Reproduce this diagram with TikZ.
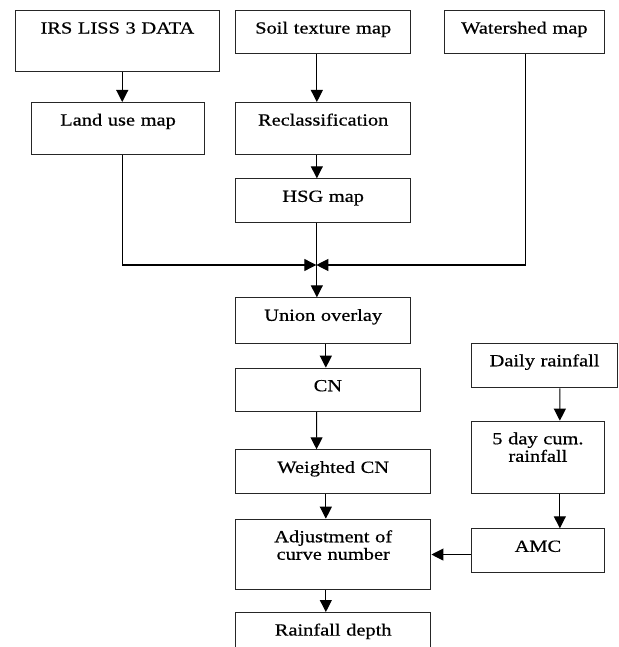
\documentclass[tikz,border=0pt]{standalone}
\usepackage{fontspec}
\setmainfont{Liberation Serif}[FakeStretch=1.2, FakeBold=0.6]
\usetikzlibrary{arrows.meta}

\begin{document}
\begin{tikzpicture}[x=1pt, y=-1pt,
        box/.style={draw=black!85, line width=1.1pt, inner sep=0pt, anchor=north west,
            align=center, text height=23pt, font=\fontsize{17}{17.5}\selectfont},
        arr/.style={line width=1.1pt, -{Triangle[length=12pt,width=12pt]}}]
        \useasboundingbox (0,0) rectangle (618,647);
        \clip (0,0) rectangle (618,647);
        % inputs
        \node[box, text width=204.3pt, text depth=37.7pt] (irs) at (14.7,10) {IRS LISS 3 DATA};
        \node[box, text width=174.7pt, text depth=19.7pt] (soil) at (235.3,10) {Soil texture map};
        \node[box, text width=160.3pt, text depth=19.7pt] (shed) at (443.7,10) {Watershed map};
        \node[box, text width=173.6pt, text depth=29pt] (land) at (30.7,102) {Land use map};
        \node[box, text width=174.7pt, text depth=29pt] (recl) at (235.3,102) {Reclassification};
        \node[box, text width=174.7pt, text depth=20.7pt] (hsg) at (235.3,178.3) {HSG map};
        % main chain
        \node[box, text width=175.3pt, text depth=22.4pt] (union) at (235,297.3) {Union overlay};
        \node[box, text width=184.7pt, text depth=20pt] (cn) at (235,367.7) {CN};
        \node[box, text width=195.3pt, text depth=20.4pt] (wcn) at (235,449.3) {Weighted CN};
        \node[box, text width=195.3pt, text depth=47pt] (adj) at (235,518.7) {Adjustment of\\curve number};
        \node[box, text width=195.3pt, text depth=27pt] (depth) at (235,612) {Rainfall depth};
        % rainfall branch
        \node[box, text width=146.6pt, text depth=21.6pt] (daily) at (470.7,342.7) {Daily rainfall};
        \node[box, text width=133.3pt, text depth=49pt] (cum) at (470.7,420.7) {5 day cum.\\rainfall};
        \node[box, text width=133.3pt, text depth=20.4pt] (amc) at (470.7,528.3) {AMC};
        \coordinate (jn) at (316.3,265);
        % connectors
        \draw[arr] ([xshift=4.85pt]irs.south) -- ([xshift=4.2pt]land.north);
        \draw[arr] ([xshift=-6.35pt]soil.south) -- ([xshift=-6.35pt]recl.north);
        \draw[arr] ([xshift=-6.35pt]recl.south) -- ([xshift=-6.35pt]hsg.north);
        \draw[arr] ([xshift=-6.35pt]hsg.south) -- ([xshift=-6.35pt]union.north);
        \draw[arr] ([xshift=4.2pt]land.south) |- (jn);
        \draw[arr] ([xshift=1.15pt]shed.south) |- (jn);
        \draw[arr] ([xshift=2.65pt]union.south) -- ([xshift=-2.05pt]cn.north);
        \draw[arr] ([xshift=-11.35pt]cn.south) -- ([xshift=-16.65pt]wcn.north);
        \draw[arr] ([xshift=-7.35pt]wcn.south) -- ([xshift=-7.35pt]adj.north);
        \draw[arr] ([xshift=-7.35pt]adj.south) -- ([xshift=-7.35pt]depth.north);
        \draw[arr] ([xshift=15.3pt]daily.south) -- ([xshift=21.95pt]cum.north);
        \draw[arr] ([xshift=21.95pt]cum.south) -- ([xshift=21.95pt]amc.north);
        \draw[arr] ([yshift=-4pt]amc.west) -- ([yshift=-4pt]amc.west -| adj.east);
    \end{tikzpicture}
\end{document}
